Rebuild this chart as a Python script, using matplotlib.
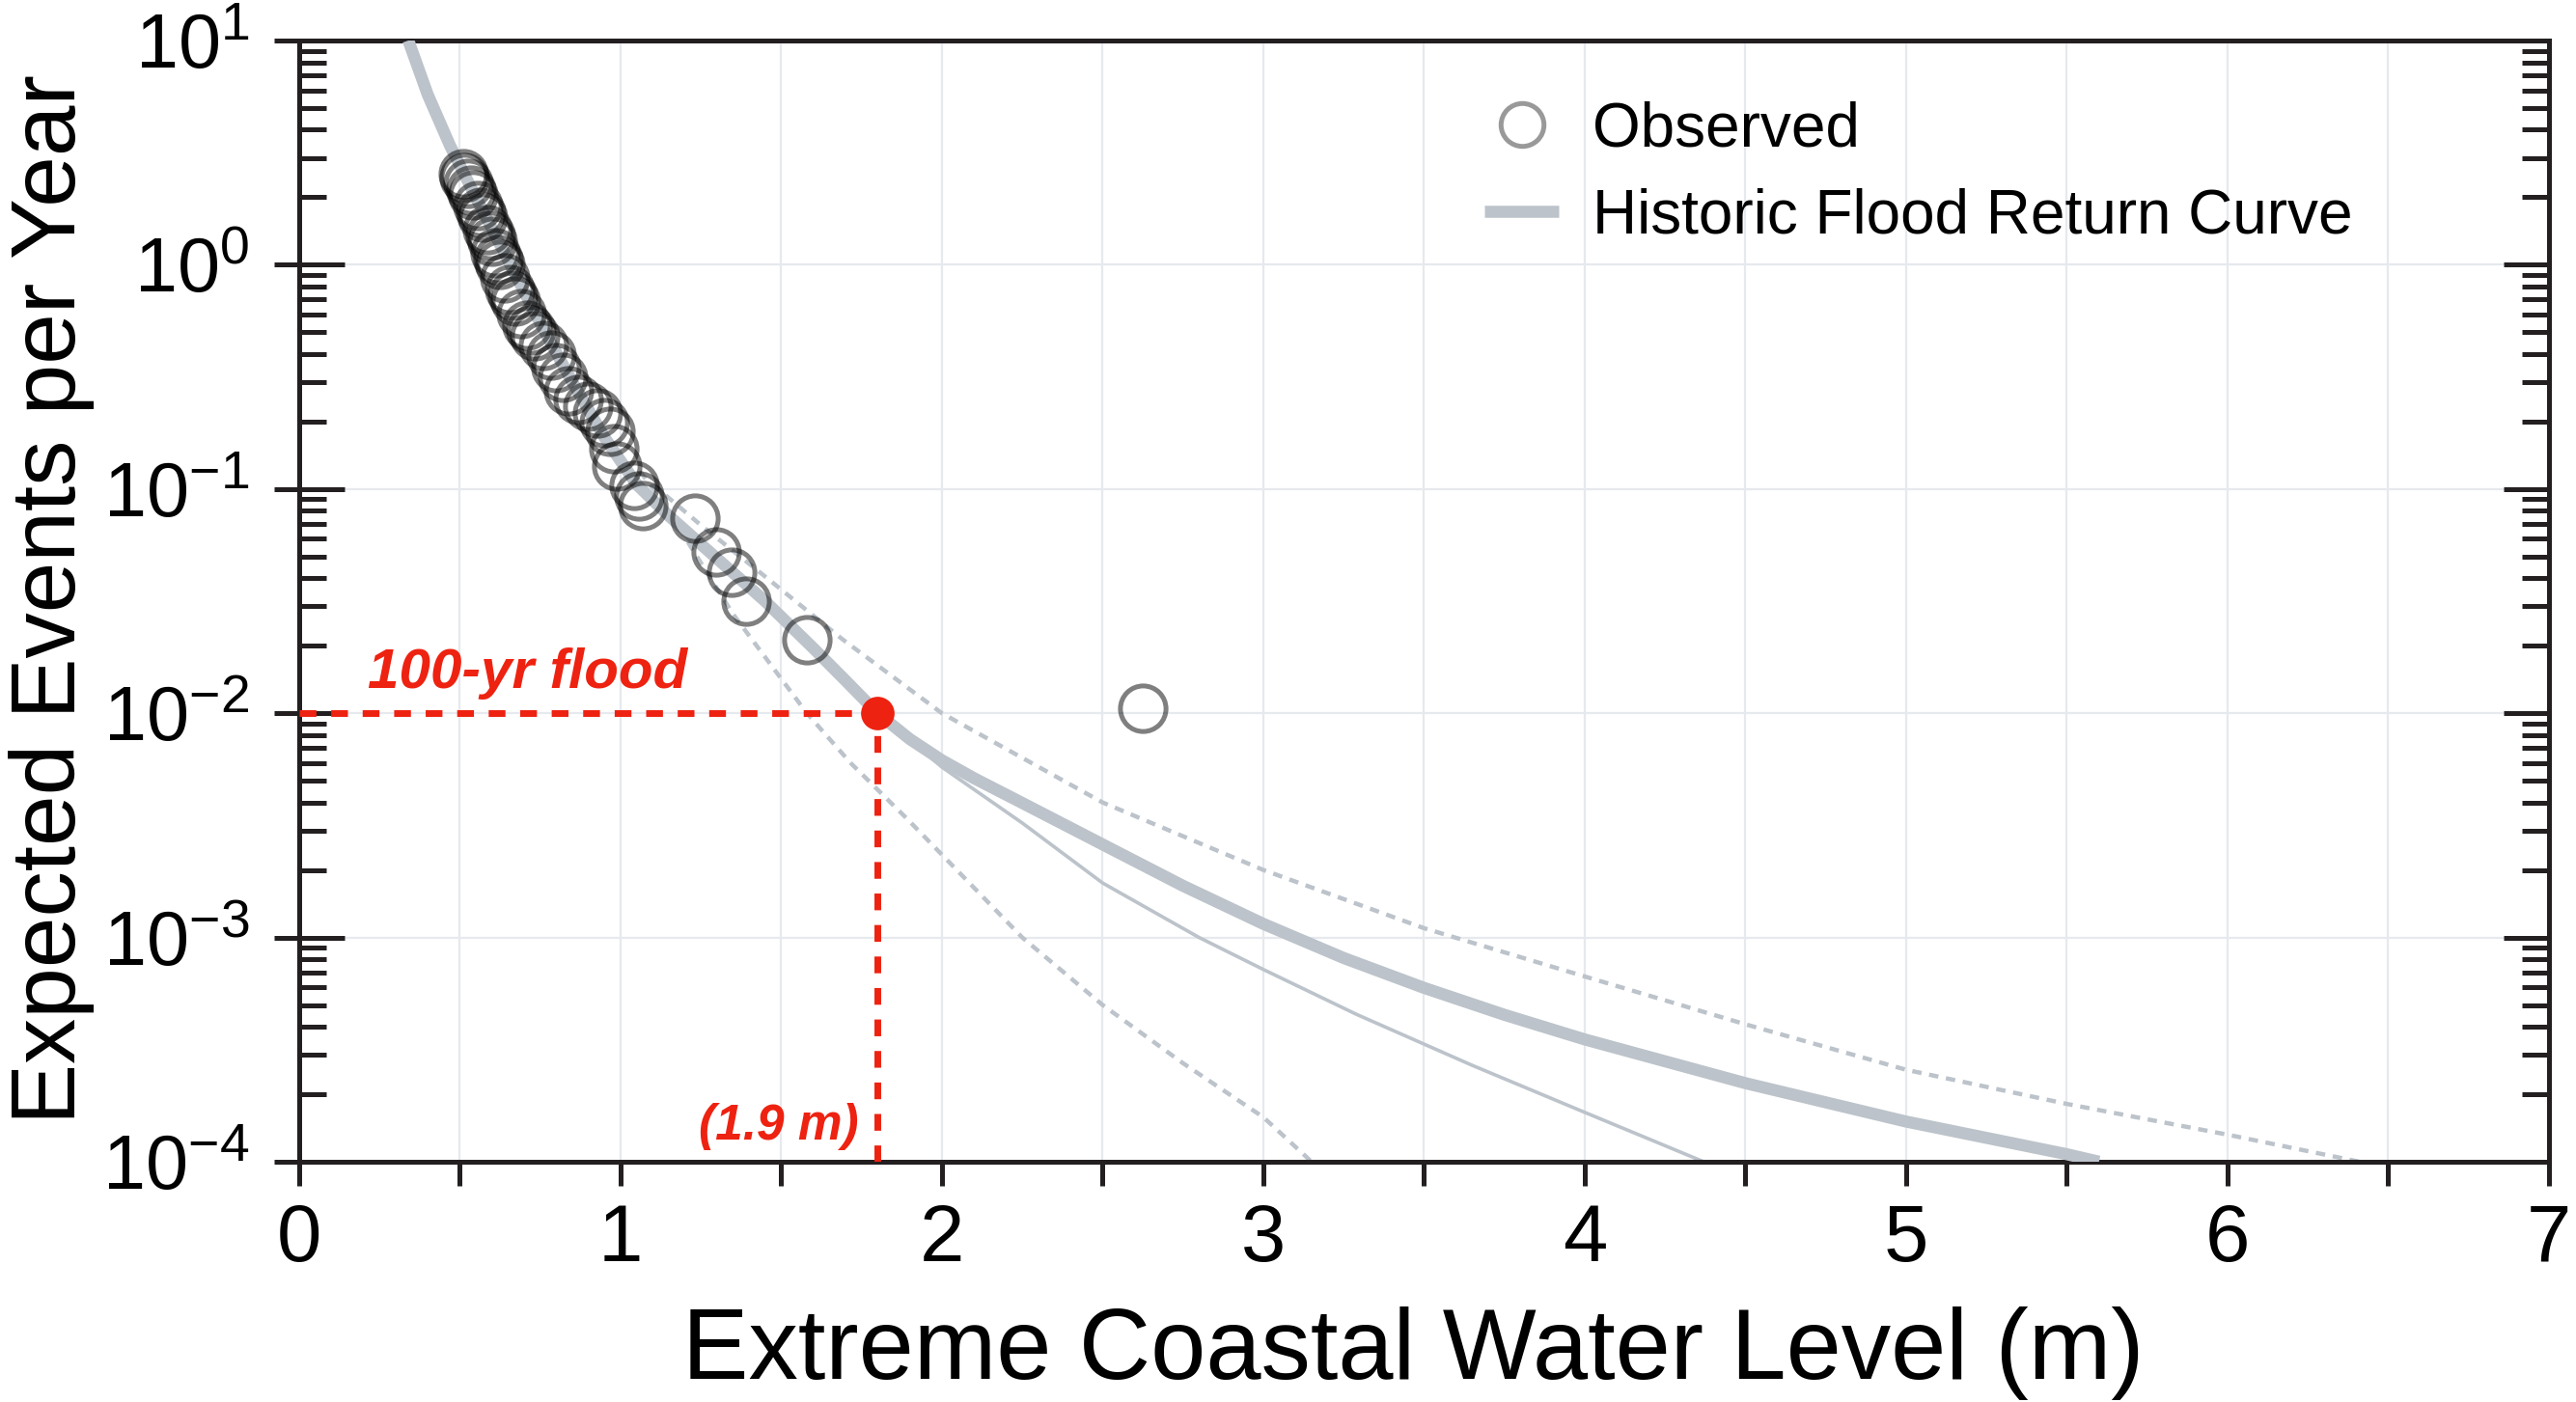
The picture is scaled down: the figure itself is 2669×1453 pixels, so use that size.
import matplotlib
matplotlib.use('Agg')
import matplotlib.pyplot as plt
from matplotlib.ticker import LogLocator, MultipleLocator, NullFormatter
from matplotlib.lines import Line2D

plt.rcParams['font.family'] = ['Liberation Sans', 'DejaVu Sans']
plt.rcParams['mathtext.fontset'] = 'custom'
plt.rcParams['mathtext.rm'] = 'Liberation Sans'
plt.rcParams['mathtext.it'] = 'Liberation Sans:italic'
plt.rcParams['mathtext.bf'] = 'Liberation Sans:bold'

# ---------------- data ----------------
obs_x = [0.51, 0.515, 0.525, 0.535, 0.54, 0.555, 0.565, 0.57, 0.585, 0.595,
         0.60, 0.61, 0.62, 0.625, 0.64, 0.655, 0.665, 0.674, 0.69, 0.709,
         0.72, 0.734, 0.759, 0.784, 0.799, 0.819, 0.839, 0.868, 0.898, 0.928,
         0.948, 0.968, 0.978, 0.988, 1.043, 1.058, 1.068,
         1.232, 1.299, 1.346, 1.392, 1.58, 2.626]
obs_y = [2.54, 2.45, 2.30, 2.15, 2.05, 1.83, 1.72, 1.63, 1.43, 1.35,
         1.27, 1.13, 1.05, 1.00, 0.87, 0.776, 0.73, 0.69, 0.607, 0.54,
         0.51, 0.48, 0.436, 0.395, 0.347, 0.314, 0.275, 0.25, 0.234, 0.219,
         0.198, 0.18, 0.152, 0.127, 0.104, 0.093, 0.084,
         0.0743, 0.0526, 0.0425, 0.0316, 0.0213, 0.0105]

curve_x = [0.34, 0.40, 0.47, 0.55, 0.65, 0.75, 0.85, 0.95, 1.05, 1.15, 1.30,
           1.45, 1.60, 1.70, 1.80, 1.90, 2.00, 2.10, 2.25, 2.50, 2.75, 3.00,
           3.25, 3.50, 3.75, 4.00, 4.50, 5.00, 5.50, 5.60]
curve_y = [10.0, 5.75, 3.39, 2.0, 1.05, 0.55, 0.30, 0.17, 0.105, 0.076,
           0.049, 0.0316, 0.0195, 0.014, 0.010, 0.00767, 0.00617, 0.00513,
           0.00398, 0.0026, 0.0017, 0.00115, 0.00081, 0.000596, 0.000452,
           0.000351, 0.000224, 0.000151, 0.000108, 0.0001]

thin_x = [1.80, 2.00, 2.25, 2.50, 2.80, 3.00, 3.29, 3.65, 4.00, 4.37]
thin_y = [0.010, 0.00575, 0.00324, 0.00175, 0.0010, 0.00072, 0.000454,
          0.000269, 0.000166, 0.0001]

upper_x = [1.10, 1.25, 1.45, 1.69, 2.0, 2.5, 3.0, 3.5, 4.0, 4.5, 5.0, 5.5,
           6.0, 6.41]
upper_y = [0.105, 0.069, 0.0407, 0.0214, 0.010, 0.0040, 0.0020, 0.0011,
           0.00067, 0.00041, 0.000257, 0.000181, 0.000132, 0.0001]

lower_x = [1.06, 1.12, 1.35, 1.58, 1.716, 1.89, 2.0, 2.25, 2.5, 2.75, 3.0,
           3.15]
lower_y = [0.12, 0.093, 0.0277, 0.010, 0.006, 0.0034, 0.00234, 0.0010,
           0.0005, 0.000275, 0.000158, 0.0001]

flood_level = 1.8
flood_freq = 0.01
flood_label = '100-yr flood'
level_label = '(1.9 m)'

x_ticks = [0, 1, 2, 3, 4, 5, 6, 7]

# ---------------- styles ----------------
GRAY = '#bcc3ca'
RED = '#ee2211'
INK = '#231f20'

fig = plt.figure(figsize=(2669 / 200, 1453 / 200), dpi=200)
ax = fig.add_axes([0.1161, 0.1714, 0.8734, 0.7997])

ax.set_yscale('log')
ax.set_xlim(0, 7)
ax.set_ylim(1e-4, 10)

# grid
ax.xaxis.set_major_locator(MultipleLocator(1))
ax.xaxis.set_minor_locator(MultipleLocator(0.5))
ax.set_xticks(x_ticks)
ax.grid(True, which='both', axis='x', color='#e6e9ed', lw=0.8, zorder=0)
ax.grid(True, which='major', axis='y', color='#e6e9ed', lw=0.8, zorder=0)
ax.set_axisbelow(True)

# curves
ax.plot(upper_x, upper_y, color=GRAY, lw=1.6, dashes=(2.2, 1.8), zorder=2)
ax.plot(lower_x, lower_y, color=GRAY, lw=1.6, dashes=(2.2, 1.8), zorder=2)
ax.plot(thin_x, thin_y, color=GRAY, lw=1.3, zorder=2)
ax.plot(curve_x, curve_y, color=GRAY, lw=4.5, solid_capstyle='butt',
        solid_joinstyle='round', zorder=3)

# observations
ax.plot(obs_x, obs_y, linestyle='none', marker='o', markersize=17,
        markerfacecolor='none', markeredgecolor=(0, 0, 0, 0.5),
        markeredgewidth=1.8, zorder=4)

# 100-yr flood markers
ax.plot([0, flood_level], [flood_freq, flood_freq], color=RED, lw=2.5,
        dashes=(2.5, 2.2), zorder=5)
ax.plot([flood_level, flood_level], [1e-4, flood_freq], color=RED, lw=2.5,
        dashes=(2.5, 2.2), zorder=5)
ax.plot([flood_level], [flood_freq], marker='o', markersize=12.5,
        color=RED, markeredgewidth=0, zorder=6)
ax.text(0.214, 0.0129, flood_label, color=RED, fontsize=21,
        fontweight='bold', fontstyle='italic', ha='left', va='baseline')
ax.text(1.74, 1.26e-4, level_label, color=RED, fontsize=18.5,
        fontweight='bold', fontstyle='italic', ha='right', va='baseline')

# axes styling
for s in ax.spines.values():
    s.set_linewidth(1.8)
    s.set_color(INK)

ax.tick_params(axis='x', which='both', direction='out', length=9, width=1.8,
               bottom=True, top=False, labelsize=30, pad=6, color=INK)
ax.xaxis.set_minor_formatter(NullFormatter())

ax.yaxis.set_major_locator(LogLocator(base=10, numticks=10))
ax.yaxis.set_minor_locator(LogLocator(base=10, subs=range(2, 10), numticks=10))
ax.yaxis.set_minor_formatter(NullFormatter())
ax.tick_params(axis='y', which='major', direction='in', length=17, width=1.8,
               left=True, right=True, labelleft=False, color=INK)
ax.tick_params(axis='y', which='minor', direction='in', length=10, width=1.8,
               left=True, right=True, color=INK)

sec = ax.secondary_yaxis('left')
sec.yaxis.set_major_locator(LogLocator(base=10, numticks=10))
sec.yaxis.set_minor_locator(LogLocator(base=10, subs=range(2, 10), numticks=10))
sec.yaxis.set_minor_formatter(NullFormatter())
sec.tick_params(which='major', direction='out', length=9.5, width=1.8,
                labelsize=28.5, pad=9, color=INK)
sec.tick_params(which='minor', length=0)
sec.spines['left'].set_linewidth(1.8)
sec.spines['left'].set_color(INK)

ax.set_xlabel('Extreme Coastal Water Level (m)', fontsize=37)
ax.xaxis.set_label_coords(0.495, -0.129)
ax.set_ylabel('Expected Events per Year', fontsize=34)
ax.yaxis.set_label_coords(-0.091, 0.502)

# legend
handles = [
    Line2D([], [], linestyle='none', marker='o', markersize=16,
           markerfacecolor='none', markeredgecolor=(0, 0, 0, 0.4),
           markeredgewidth=1.8),
    Line2D([], [], color=GRAY, lw=4.5, solid_capstyle='butt'),
]
ax.legend(handles, ['Observed', 'Historic Flood Return Curve'],
          loc='upper left', bbox_to_anchor=(0.527, 0.946), frameon=False,
          fontsize=23, handlelength=1.2, handletextpad=0.55,
          labelspacing=0.46, borderpad=0, borderaxespad=0)

fig.savefig('out.png', dpi=200)
